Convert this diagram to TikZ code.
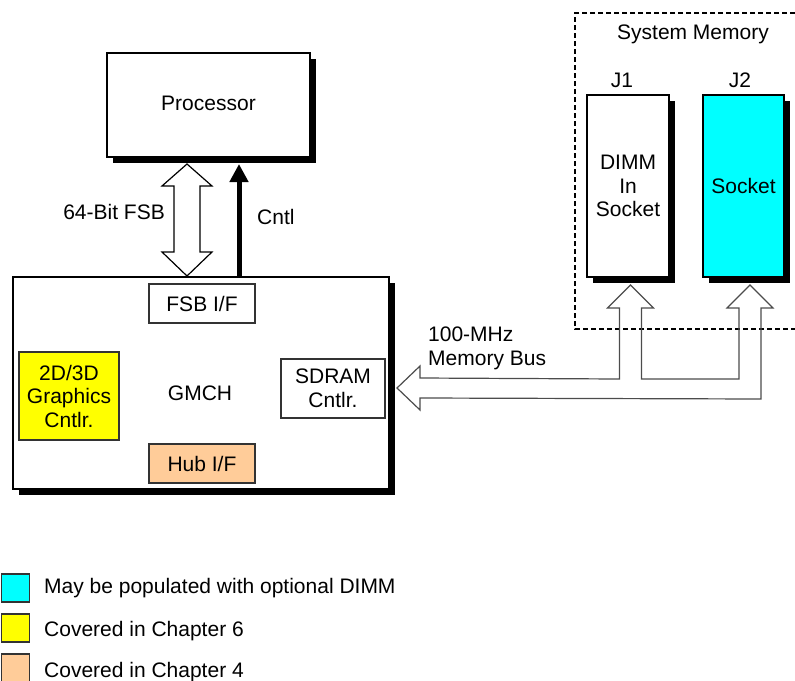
\documentclass[tikz,border=0pt]{standalone}
\usepackage{fontspec}
\setmainfont{Liberation Sans}
\usetikzlibrary{calc,shadows,arrows.meta}
\definecolor{cyanC}{HTML}{00FFFF}
\definecolor{yellowC}{HTML}{FFFF00}
\definecolor{peachC}{HTML}{FFCC99}
\begin{document}
\begin{tikzpicture}[x=1pt,y=-1pt,
  font=\fontsize{21}{23.5}\selectfont, inner sep=0pt,
  box/.style={draw, line width=2pt, fill=white, inner sep=0pt, align=center},
  shad/.style={drop shadow={shadow xshift=6pt,shadow yshift=-6pt,opacity=1,fill=black}},
  inbox/.style={draw=black!80, line width=1.1pt, fill=white, inner sep=0pt, align=center},
  bus/.style={draw=black!70, line width=1.2pt},
  hollow/.style={draw=black, line width=1.2pt, fill=white},
  dashbox/.style={draw=black, line width=1.2pt, dash pattern=on 5pt off 3pt},
  legsq/.style={draw=black!80, line width=1.1pt, minimum size=28pt, inner sep=0pt}]
\useasboundingbox (0,0) rectangle (795,680);

% Processor
\node[box,shad,minimum width=203pt,minimum height=104pt] (proc) at (208.5,105) {\raisebox{3pt}{Processor}};

% GMCH
\node[box,shad,minimum width=376pt,minimum height=212pt] (gmch) at (201,383) {};
\node (gmchlbl) at (200,393) {GMCH};
\node[inbox, minimum width=106pt, minimum height=39pt] (fsbif) at (202,303.5) {FSB I/F};
\node[inbox, fill=yellowC, minimum width=100pt, minimum height=88pt] (gfx) at (69,396) {2D/3D\\Graphics\\Cntlr.};
\node[inbox, minimum width=104pt, minimum height=59pt] (sdram) at (333,388.5) {SDRAM\\Cntlr.};
\node[inbox, fill=peachC, minimum width=106pt, minimum height=39pt] (hubif) at (202,463.5) {Hub I/F};

% System memory
\draw[dashbox] (795,13) -- (575,13) -- (575,329) -- (795,329);
\node (sysmem) at (693,34) {System Memory};
\node (j1lbl) at (622,80) {J1};
\node (j2lbl) at (740,80) {J2};
\node[box,shad,minimum width=82pt,minimum height=182pt] (j1) at (628,186) {DIMM\\In\\Socket};
\node[box,shad,fill=cyanC,minimum width=81pt,minimum height=182pt] (j2) at (743.5,186) {Socket};

% FSB double arrow
\coordinate (fsbtop) at ($(proc.south)+(-21.5,6)$);
\coordinate (fsbbot) at (fsbtop |- gmch.north);
\draw[hollow] (fsbtop) -- ++(25,22) -- ++(-12,0) -- ($(fsbbot)+(13,-24)$) -- ++(12,0)
  -- (fsbbot) -- ++(-25,-24) -- ++(12,0) -- ($(fsbtop)+(-13,22)$) -- ++(-12,0) -- cycle;
\node[anchor=east] (fsblbl) at (165,212) {64-Bit FSB};

% Cntl arrow
\coordinate (cntltop) at ($(proc.south)+(30.5,6)$);
\draw[line width=5pt, -{Triangle[width=18pt,length=18pt]}] (cntltop |- gmch.north) -- (cntltop);
\node[anchor=west] (cntllbl) at (257,217) {Cntl};

% Memory bus
\coordinate (busL) at ($(gmch.east)+(7,5)$);
\coordinate (j1tip) at ($(j1.south)+(2.5,7)$);
\coordinate (j2tip) at ($(j2.south)+(6.5,7)$);
\draw[bus] ($(j1tip)+(-11,23)$) -- ($(j1tip)+(-11,94)$) -- ($(busL)+(23,-10)$)
  -- ++(0,-12) -- (busL) -- ++(23,22) -- ++(0,-12) -- ($(j2tip)+(11,114)$)
  -- ($(j2tip)+(11,23)$) -- ++(12,0) -- (j2tip) -- ++(-23,23) -- ++(12,0)
  -- ($(j2tip)+(-11,94)$) -- ($(j1tip)+(11,94)$) -- ($(j1tip)+(11,23)$)
  -- ++(12,0) -- (j1tip) -- ++(-23,23) -- cycle;
\node[anchor=west, align=left] (buslbl) at (428,348.5) {100-MHz\\Memory Bus};

% Legend
\node[legsq, fill=cyanC] (lc) at (15.5,588) {};
\node[anchor=base west] (lct) at (44,593) {May be populated with optional DIMM};
\node[legsq, fill=yellowC] (ly) at (15.5,628) {};
\node[anchor=base west] (lyt) at (44,636) {Covered in Chapter 6};
\node[legsq, fill=peachC] (lp) at (15.5,668) {};
\node[anchor=base west] (lpt) at (44,677) {Covered in Chapter 4};
\end{tikzpicture}
\end{document}
